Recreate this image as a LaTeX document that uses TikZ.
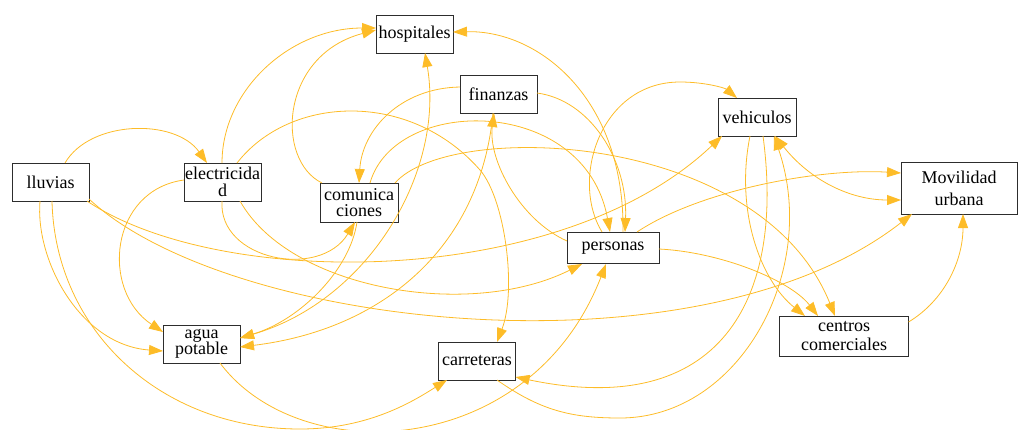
\documentclass[tikz,border=0pt]{standalone}
\usepackage{fontspec}
\setmainfont{Liberation Serif}
\usetikzlibrary{arrows.meta,calc}
\definecolor{edgec}{RGB}{253,188,40}
\definecolor{boxc}{RGB}{45,45,45}
\begin{document}
\begin{tikzpicture}[x=1pt,y=-1pt,
  box/.style={draw=boxc, line width=1pt, inner sep=0pt, align=center, fill=white,
    minimum width=77pt, minimum height=38pt, font=\fontsize{18}{16.5}\selectfont},
  tip/.tip={Triangle[length=14pt,width=10pt]},
  link/.style={draw=edgec, line width=0.8pt, -tip},
  both/.style={draw=edgec, line width=0.8pt, tip-tip}]
\useasboundingbox (0,0) rectangle (1019,429);

\node[box] (llu) at (50.5,182) {lluvias};
\node[box] (ele) at (222.5,182) {electricida\\d};
\node[box] (hos) at (414.5,34) {hospitales};
\node[box] (fin) at (498.5,94) {finanzas};
\node[box, minimum width=78pt] (veh) at (757,117) {vehiculos};
\node[box, minimum width=116pt, minimum height=52pt, font=\fontsize{18}{22}\selectfont] (mov) at (959,188) {Movilidad\\urbana};
\node[box, minimum width=78pt, minimum height=39pt, font=\fontsize{18}{16.5}\selectfont] (com) at (359,202.5) {comunica\\ciones};
\node[box, minimum width=92pt, minimum height=31pt] (per) at (613,248) {personas};
\node[box] (agu) at (201.5,344) {agua\\potable};
\node[box] (car) at (477,361) {carreteras};
\node[box, minimum width=129pt, minimum height=40pt, font=\fontsize{18}{19}\selectfont] (cen) at (844,336) {centros\\comerciales};

% lluvias
\draw[link] ($(llu)+(14.5,-19)$) .. controls (90,120) and (175,118) .. ($(ele)+(-15.5,-19)$);
\draw[link] ($(llu)+(-10.5,19)$) .. controls (35,260) and (80,345) .. ($(agu)+(-38.5,7)$);
\draw[link] ($(llu)+(1.5,19)$) .. controls (55,330) and (160,429) .. (300,429)
            .. controls (370,429) and (415,400) .. ($(car)+(-30,19)$);
\draw[link] ($(llu)+(36.5,19)$) .. controls (220,290) and (560,290) .. ($(veh)+(-35,19)$);
\draw[link] ($(llu)+(38.5,17)$) .. controls (230,330) and (700,380) .. ($(mov)+(-47,26)$);

% electricidad
\draw[link] ($(ele)+(-0.5,-19)$) .. controls (222,90) and (290,28) .. ($(hos)+(-38.5,-6)$);
\draw[link] ($(ele)+(14.5,-19)$) .. controls (290,95) and (410,90) .. (480,170)
            .. controls (505,199) and (517,290) .. ($(car)+(20,-19)$);
\draw[link] ($(ele)+(-38.5,-2)$) .. controls (110,190) and (100,290) .. ($(agu)+(-38.5,-12)$);
\draw[link] ($(ele)+(-0.5,19)$) .. controls (218,260) and (320,280) .. ($(com)+(-4,19.5)$);
\draw[link] ($(ele)+(17.5,19)$) .. controls (290,290) and (470,320) .. ($(per)+(-31,16)$);

% comunicaciones
\draw[link] ($(com)+(-37,-19.5)$) .. controls (275,160) and (280,55) .. ($(hos)+(-38.5,-4)$);
\draw[link] ($(com)+(-2,19.5)$) .. controls (350,270) and (300,320) .. ($(agu)+(38.5,-6)$);
\draw[link] ($(com)+(11,-19.5)$) .. controls (395,95) and (585,95) .. ($(per)+(-3,-16)$);
\draw[link] ($(com)+(36,-19.5)$) .. controls (450,120) and (760,130) .. ($(cen)+(-9,-20)$);

% agua potable
\draw[both] ($(agu)+(38.5,-6)$) .. controls (370,300) and (445,170) .. ($(hos)+(10.5,19)$);
\draw[link] ($(agu)+(18.5,19)$) .. controls (300,470) and (530,460) .. ($(per)+(-7,16)$);

% finanzas
\draw[link] ($(fin)+(-5.5,19)$) .. controls (480,250) and (380,330) .. ($(agu)+(38.5,3)$);
\draw[link] ($(fin)+(-38.5,-7)$) .. controls (400,88) and (362,130) .. ($(com)+(0,-19.5)$);
\draw[link] ($(fin)+(38.5,-1)$) .. controls (590,100) and (628,160) .. ($(per)+(12,-16)$);

% personas
\draw[link] ($(per)+(-46,-7)$) .. controls (520,220) and (488,160) .. ($(fin)+(-4.5,19)$);
\draw[link] ($(per)+(-11,-16)$) .. controls (570,180) and (600,82) .. (680,82)
            .. controls (705,82) and (725,88) .. ($(veh)+(-20,-19)$);
\draw[link] ($(per)+(10,-16)$) .. controls (625,100) and (540,30) .. ($(hos)+(38.5,-2)$);
\draw[link] ($(per)+(24,-16)$) .. controls (700,190) and (820,168) .. ($(mov)+(-58,-15)$);
\draw[link] ($(per)+(46,1)$) .. controls (720,252) and (790,280) .. ($(cen)+(-26,-20)$);

% carreteras / vehiculos
\draw[link] ($(car)+(20,19)$) .. controls (540,410) and (570,418) .. (620,418)
            .. controls (740,418) and (820,270) .. ($(veh)+(17,19)$);
\draw[link] ($(veh)+(6,19)$) .. controls (785,300) and (720,420) .. ($(car)+(38.5,16)$);
\draw[link] ($(veh)+(-7,19)$) .. controls (735,210) and (760,280) .. ($(cen)+(-39,-20)$);
\draw[both] ($(veh)+(18,19)$) .. controls (810,180) and (850,200) .. ($(mov)+(-58,12)$);

% centros comerciales
\draw[link] ($(cen)+(64.5,-14)$) .. controls (945,300) and (963,260) .. ($(mov)+(4,26)$);
\end{tikzpicture}
\end{document}
